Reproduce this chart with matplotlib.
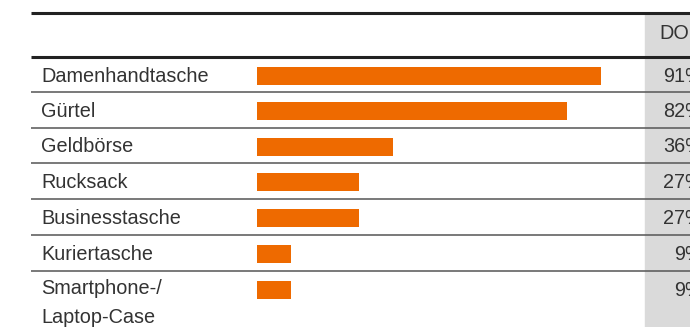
import matplotlib
matplotlib.use('Agg')
import matplotlib.pyplot as plt

# category labels and shares in percent
labels = ['Damenhandtasche', 'Gürtel', 'Geldbörse', 'Rucksack',
          'Businesstasche', 'Kuriertasche', 'Smartphone-/\nLaptop-Case']
values = [91, 82, 36, 27, 27, 9, 9]
value_labels = ['91%', '82%', '36%', '27%', '27%', '9%', '9%']
header = 'DO'

orange = '#ee6a00'
text_col = '#333333'
grey_col = '#dadada'
fs = 14.3

plt.rcParams['font.family'] = ['Liberation Sans', 'DejaVu Sans']

W, H = 690, 327
fig = plt.figure(figsize=(W / 100, H / 100), dpi=100)

# base layer in pixel units
ax = fig.add_axes([0, 0, 1, 1])
ax.set_xlim(0, W)
ax.set_ylim(H, 0)
ax.axis('off')

left = 31
row_tops = [57, 92.3, 127.7, 163, 199, 235, 271]

# shaded value column
ax.axvspan(644.5, W, ymin=0, ymax=1 - 13 / H, color=grey_col, zorder=0)

# table rules
ax.hlines(13, left, W, color='#222222', lw=2.2)
ax.hlines(57, left, W, color='#222222', lw=2.2)
for y in row_tops[1:]:
    ax.hlines(y, left, W, color='#555555', lw=1.1)

ax.text(659, 39, header, fontsize=fs, color=text_col, va='baseline')

for top, lab, vl in zip(row_tops, labels, value_labels):
    base = top + 24.7
    nlines = lab.count('\n')
    # multi-line labels are anchored on the baseline of their last line
    ax.text(41, base + nlines * 27, lab, fontsize=fs, color=text_col,
            va='baseline', linespacing=1.62)
    ax.text(703, base, vl, fontsize=fs, color=text_col, va='baseline', ha='right')

# bars on their own 0-100 scale
x0, x100 = 257, 257 + 378
bax = fig.add_axes([x0 / W, 0, (x100 - x0) / W, 1])
bax.set_xlim(0, 100)
bax.set_ylim(H, 0)
bax.axis('off')
centers = [t + 19 for t in row_tops]
bax.barh(centers, values, height=18, color=orange, left=0)

fig.savefig('out.png', dpi=100)
